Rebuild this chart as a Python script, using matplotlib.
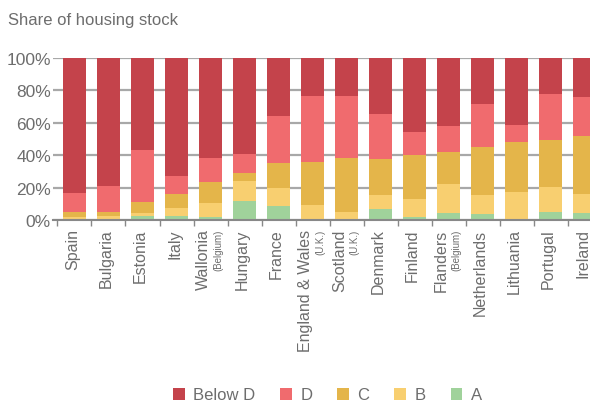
import numpy as np
import matplotlib
matplotlib.use("Agg")
from matplotlib import pyplot as plt
from matplotlib.patches import Patch
import matplotlib.transforms as mtransforms

countries = ["Spain", "Bulgaria", "Estonia", "Italy", "Wallonia", "Hungary", "France",
             "England & Wales", "Scotland", "Denmark", "Finland", "Flanders",
             "Netherlands", "Lithuania", "Portugal", "Ireland"]
notes = ["", "", "", "", "(Belgium)", "", "", "(U.K.)", "(U.K.)", "", "", "(Belgium)",
         "", "", "", ""]

# shares in % of housing stock, per energy label
share_a = [0.2, 0.2, 2.3, 2.3, 1.7, 11.6, 8.5, 0.3, 0.2, 6.6, 1.7, 4.2, 3.5, 0.3, 4.8, 4.2]
share_b = [1.8, 2.3, 2.0, 5.0, 8.8, 12.4, 11.1, 8.8, 4.6, 8.7, 11.1, 17.9, 11.8, 16.9, 15.5, 11.8]
share_c = [3.0, 2.5, 6.9, 8.7, 12.9, 5.1, 15.5, 26.6, 33.4, 22.3, 27.3, 19.8, 29.7, 30.9, 29.1, 35.9]
share_d = [12.0, 16.0, 31.8, 11.3, 14.8, 11.6, 29.2, 40.9, 38.4, 27.9, 14.2, 16.1, 26.7, 10.6, 28.4, 24.0]
share_below_d = [83.0, 79.0, 57.0, 72.7, 61.8, 59.3, 35.7, 23.4, 23.4, 34.5, 45.7, 42.0, 28.3, 41.3, 22.2, 24.1]

series = [("A", share_a, "#a0d29b"),
          ("B", share_b, "#f8cf70"),
          ("C", share_c, "#e4b54a"),
          ("D", share_d, "#f06b6e"),
          ("Below D", share_below_d, "#c4434b")]

text_color = "#6d6d6d"
plt.rcParams["font.family"] = ["Liberation Sans", "DejaVu Sans"]

fig = plt.figure(figsize=(5.9, 4.02), dpi=100)
ax = fig.add_axes([53 / 590, 0.45, 1 - 53 / 590, 0.403])

x = np.arange(len(countries))
bottom = np.zeros(len(countries))
for name, vals, col in series:
    ax.bar(x, vals, bottom=bottom, width=0.68, color=col, zorder=3)
    bottom += np.array(vals)

ax.set_xlim(-0.632, 15.16)
ax.set_ylim(0, 100)
ax.set_yticks(range(0, 101, 20))
ax.set_yticklabels([f"{v}%" for v in range(0, 101, 20)])
ax.grid(axis="y", color="#a8a8a8", linewidth=1.6, zorder=0)
ax.tick_params(axis="y", length=0, pad=1.5, labelsize=12.5, labelcolor=text_color)

ax.set_xticks([-0.5] + list(x[:-1] + 0.5))
ax.set_xticklabels([])
ax.tick_params(axis="x", length=4, width=1, color="#888888", direction="out")

for s in ["left", "right", "top"]:
    ax.spines[s].set_visible(False)
ax.spines["bottom"].set_color("#888888")
ax.spines["bottom"].set_linewidth(1.5)
ax.spines["bottom"].set_zorder(4)

trans = mtransforms.blended_transform_factory(ax.transData, ax.transAxes)
px = 0.72  # points per pixel
for i, (name, note) in enumerate(zip(countries, notes)):
    if note:
        ax.annotate(name, (i, 0), xycoords=trans, xytext=(-7 * px, -6),
                    textcoords="offset points", rotation=90, ha="center", va="top",
                    fontsize=11.5, color=text_color)
        ax.annotate(note, (i, 0), xycoords=trans, xytext=(8 * px, -6),
                    textcoords="offset points", rotation=90, ha="center", va="top",
                    fontsize=7, color=text_color)
    else:
        ax.annotate(name, (i, 0), xycoords=trans, xytext=(-2 * px, -6),
                    textcoords="offset points", rotation=90, ha="center", va="top",
                    fontsize=11.5, color=text_color)

fig.text(8 / 590, 1 - 20 / 402, "Share of housing stock", ha="left", va="center",
         fontsize=12, color=text_color)

handles = [Patch(facecolor=col, label=name) for name, vals, col in series[::-1]]
leg = fig.legend(handles=handles, loc="center", bbox_to_anchor=(327.5 / 590, 1 - 396 / 402),
                 ncol=5, frameon=False, fontsize=12, handlelength=0.7, handleheight=0.7,
                 handletextpad=0.5, columnspacing=1.5, borderpad=0)
for t in leg.get_texts():
    t.set_color(text_color)

fig.savefig("out.png", dpi=100)
